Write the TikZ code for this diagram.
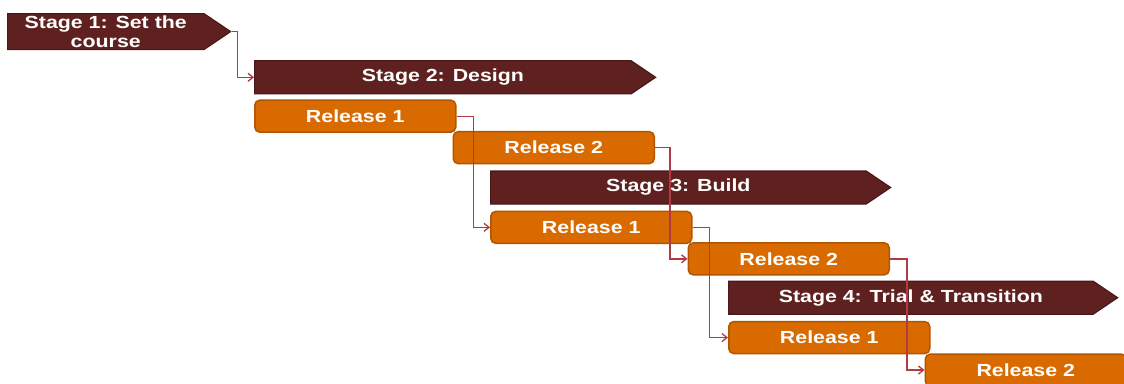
\documentclass[tikz,border=0pt]{standalone}
\usepackage{fontspec}
\setmainfont{Liberation Sans}[FakeStretch=1.22]
\usetikzlibrary{arrows.meta,positioning,shapes.symbols}

\definecolor{stagered}{HTML}{5E2120}
\definecolor{stageedge}{HTML}{4A1818}
\definecolor{relorange}{HTML}{D96A00}
\definecolor{reledge}{HTML}{B35500}
\definecolor{linkred}{HTML}{B03A46}

\begin{document}
\begin{tikzpicture}[x=1pt, y=1pt, node distance=7pt,
    every node/.style={font=\fontsize{17.5}{19}\selectfont\bfseries, text=white},
    stagebox/.style={signal, signal to=east, signal pointer angle=68, fill=stagered, draw=stageedge, line width=1.2pt, minimum height=33pt, inner sep=0pt},
    relbox/.style={rectangle, rounded corners=5pt, fill=relorange, draw=reledge, line width=1.5pt, minimum width=201pt, minimum height=32pt, inner sep=0pt},
    link/.style={draw=linkred, line width=1.3pt, -{Straight Barb[length=5pt,width=8pt]}}]
        \clip (0,0) rectangle (1124,-383);
        \node[stagebox, minimum width=223pt, minimum height=36pt, align=center, anchor=north west] (s1) at (7,-13) {Stage 1: Set the\\course};
        \node[stagebox, minimum width=401pt] (s2) [below right=10pt and 247pt of s1.south west] {Stage 2: Design};
        \node[relbox] (r1a) [below right=5pt and 0pt of s2.south west] {Release 1};
        \node[relbox] (r2a) [below right=-2pt and -4pt of r1a.south east] {Release 2};
        \node[stagebox, minimum width=400pt] (s3) [below right=76pt and 236pt of s2.south west] {Stage 3: Build};
        \node[relbox] (r1b) [below right=6pt and 0pt of s3.south west] {Release 1};
        \node[relbox] (r2b) [below right=-2pt and -5pt of r1b.south east] {Release 2};
        \node[stagebox, minimum width=389pt] (s4) [below right=76pt and 238pt of s3.south west] {Stage 4: Trial \& Transition};
        \node[relbox] (r1c) [below right=6pt and 0pt of s4.south west] {Release 1};
        \node[relbox] (r2c) [below right=-1pt and -6pt of r1c.south east] {Release 2};
        \draw[link] (s1.east) -- ++(6,0) |- (s2.west);
        \draw[link] (r1a.east) -- ++(17,0) |- (r1b.west);
        \draw[link] (r2a.east) -- ++(15,0) |- (r2b.west);
        \draw[link] (r1b.east) -- ++(17,0) |- (r1c.west);
        \draw[link] (r2b.east) -- ++(17,0) |- (r2c.west);
    \end{tikzpicture}
\end{document}
